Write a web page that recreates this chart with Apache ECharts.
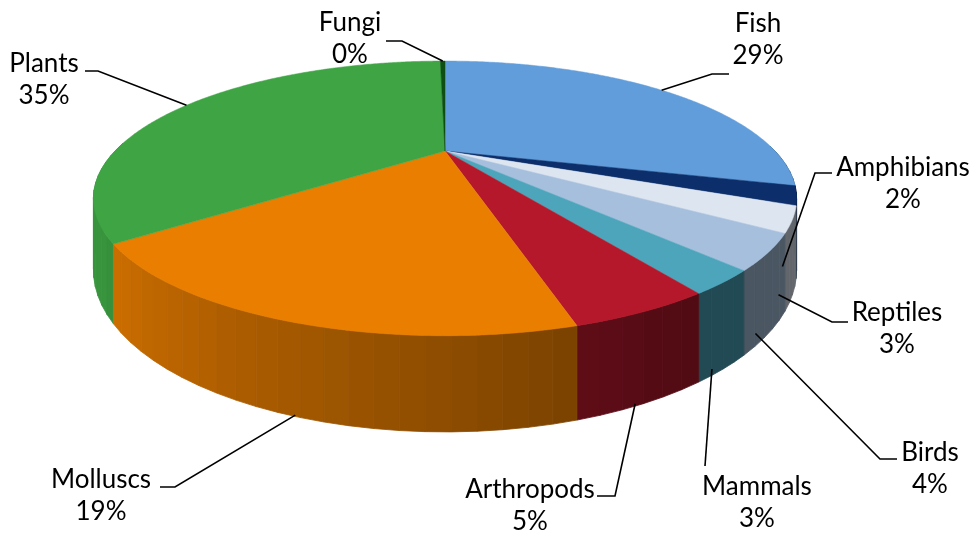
<!DOCTYPE html>
<html>
<head>
<meta charset="utf-8">
<script src="https://cdn.jsdelivr.net/npm/echarts@6/dist/echarts.min.js"></script>
<style>
  html, body { margin: 0; padding: 0; background: #fff; }
  #chart { width: 973px; height: 533px; }
</style>
</head>
<body>
<div id="chart"></div>
<script>
// data (share of species)
const categories = ['Fish', 'Amphibians', 'Reptiles', 'Birds', 'Mammals', 'Arthropods', 'Molluscs', 'Plants', 'Fungi'];
const values = [29.2, 2.2, 2.9, 3.9, 2.6, 4.9, 18.9, 35.1, 0.3];

// slice colours (top face; the sides get darkened copies)
const colors = ['#619ddb', '#0c2f6b', '#dce5f0', '#a6bfdd', '#4ca5ba', '#b5182b', '#e97e00', '#3ea444', '#0f4f14'];

// where each label sits and the first points of its leader line
const labelLayout = [
  { x: 758, y: 39.5, lead: [[729, 74], [712, 74]] },
  { x: 903, y: 183.5, lead: [[832, 173], [815, 173]] },
  { x: 897, y: 328.5, lead: [[848, 322], [832, 322]] },
  { x: 930, y: 468.5, lead: [[897, 459], [880, 459]] },
  { x: 757, y: 502.5, lead: [[705, 466]] },
  { x: 530, y: 505.5, lead: [[597, 496], [615, 496]] },
  { x: 101, y: 496, lead: [[160, 487], [175, 487]] },
  { x: 44, y: 79.5, lead: [[85, 71], [98, 71]] },
  { x: 350, y: 39, lead: [[386, 41], [402, 41]] }
];

// 3d projection settings
const CX = 445, CY = 151;   // projected centre of the top face
const RX = 330, RY = 121;   // radii before perspective
const P = 0.345;            // perspective strength
const DEPTH = 63;           // thickness of the pie

const total = values.reduce((a, b) => a + b, 0);
const starts = [];
let acc = 0;
values.forEach(v => { starts.push(acc); acc += v; });

function proj(deg, r, drop) {
  const t = deg * Math.PI / 180;
  const X = r * Math.sin(t), Z = r * Math.cos(t);
  const w = 1 + P * Z;
  return [CX + RX * X / w, CY - RY * Z / w + drop * DEPTH / w];
}

function shade(hex, f) {
  const n = parseInt(hex.slice(1), 16);
  const r = Math.round(((n >> 16) & 255) * f);
  const g = Math.round(((n >> 8) & 255) * f);
  const b = Math.round((n & 255) * f);
  return 'rgb(' + r + ',' + g + ',' + b + ')';
}

// light comes from the left: the right side of the wall is darker
function sideFactor(deg) {
  return Math.max(0.45, Math.min(0.9, 0.45 + (deg - 150) * 0.0052));
}

function renderItem(params, api) {
  const i = params.dataIndex;
  const s = starts[i] / total * 360;
  const e = (starts[i] + api.value(0)) / total * 360;
  const color = colors[i];
  const children = [];

  // side wall, in small strips
  const n = Math.max(1, Math.ceil((e - s) / 3));
  for (let k = 0; k < n; k++) {
    const a1 = s + (e - s) * k / n;
    const a2 = s + (e - s) * (k + 1) / n;
    const m = (a1 + a2) / 2;
    const cm = Math.cos(m * Math.PI / 180);
    if (cm > 0.05) continue;
    const fill = shade(color, sideFactor(m));
    children.push({
      type: 'polygon',
      z2: Math.round(500 - 400 * cm),
      shape: { points: [proj(a1, 1, 0), proj(a2, 1, 0), proj(a2, 1, 1), proj(a1, 1, 1)] },
      style: { fill: fill, stroke: fill, lineWidth: 0.8 }
    });
  }

  // top face
  const pts = [[CX, CY]];
  const steps = Math.max(2, Math.ceil(e - s) * 2);
  for (let k = 0; k <= steps; k++) {
    pts.push(proj(s + (e - s) * k / steps, 1, 0));
  }
  children.push({
    type: 'polygon',
    z2: 1000,
    shape: { points: pts },
    style: { fill: color, stroke: color, lineWidth: 0.5 }
  });

  // label with leader line
  const mid = (s + e) / 2;
  let anchor;
  if (Math.cos(mid * Math.PI / 180) < -0.25) {
    const b = proj(mid, 1, 1);
    anchor = [CX + (b[0] - CX) * 0.96, b[1]];
  } else {
    anchor = proj(mid, 1, 0);
  }
  const lay = labelLayout[i];
  const pct = Math.round(api.value(0) / total * 100);
  children.push({
    type: 'polyline',
    z2: 1500,
    shape: { points: lay.lead.concat([anchor]) },
    style: { stroke: '#000', lineWidth: 1.6, fill: null }
  });
  children.push({
    type: 'text',
    z2: 2000,
    style: {
      text: categories[i] + '\n' + pct + '%',
      x: lay.x,
      y: lay.y,
      align: 'center',
      verticalAlign: 'middle',
      font: '26px Lato',
      lineHeight: 32,
      fill: '#000'
    }
  });

  return { type: 'group', children: children };
}

const chart = echarts.init(document.getElementById('chart'));
chart.setOption({
  backgroundColor: '#fff',
  animation: false,
  series: [{
    type: 'custom',
    coordinateSystem: 'none',
    silent: true,
    renderItem: renderItem,
    data: values.map((v, i) => ({ name: categories[i], value: v }))
  }]
});
window.addEventListener('resize', () => chart.resize());
</script>
</body>
</html>
